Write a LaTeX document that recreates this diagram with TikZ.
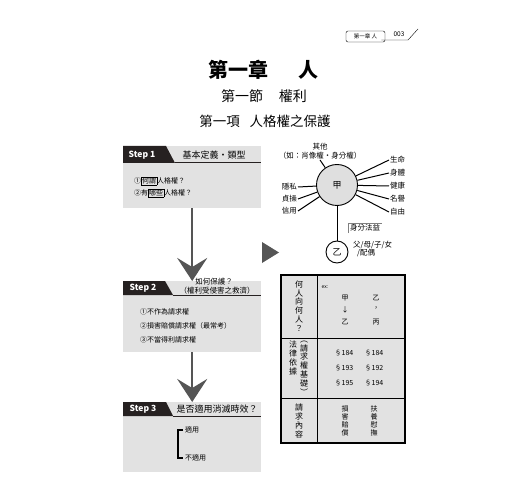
\documentclass[tikz,border=0pt]{standalone}
\usepackage{fontspec}
\setmainfont{Noto Sans CJK TC}
\usepackage{tikz}
\usetikzlibrary{arrows.meta,positioning}
\definecolor{boxgray}{RGB}{226,226,226}
\definecolor{tabblack}{RGB}{38,33,33}
\definecolor{arrowgray}{RGB}{85,85,85}

\begin{document}
\begin{tikzpicture}[x=1pt,y=-1pt,
    stepbody/.style={fill=boxgray,draw=none,anchor=north west,minimum width=138pt,inner sep=0pt},
    steplabel/.style={font=\fontsize{8.5}{9}\selectfont\bfseries,text=white,inner sep=0pt},
    stephead/.style={font=\fontsize{9}{9}\selectfont,inner sep=0pt},
    item/.style={anchor=west,font=\fontsize{7}{8}\selectfont,inner sep=0pt},
    flow/.style={line width=2.2pt,arrowgray,-{Stealth[length=23pt,width=30pt,inset=9pt]}},
    spoke/.style={line width=1pt},
    lbl/.style={font=\fontsize{7.5}{8.5}\selectfont,inner sep=1pt},
    vtext/.style={align=center,font=\fontsize{8}{8.8}\selectfont,inner sep=0pt},
    cell/.style={font=\fontsize{7}{8}\selectfont,inner sep=0pt}]
    \useasboundingbox (0,0) rectangle (520,500);

    % Running head
    \draw[rounded corners=2pt] (346,31) rectangle (385,42);
    \node[font=\fontsize{5.5}{6}\selectfont,inner sep=0pt] (runhead) at (365.5,36.5) {第一章\ 人};
    \node[font=\fontsize{6.5}{7}\selectfont,inner sep=0pt] (pagenum) at (399,34) {003};
    \coordinate (slashfoot) at (408,40);
    \coordinate (slashtop) at (418,29);
    \draw (runhead.east |- 0,40) ++(4,0) -- (slashfoot) -- (slashtop);

    % Titles
    \node[font=\fontsize{20}{20}\selectfont\bfseries] (chapter) at (263,70) {第一章\hspace{30pt}人};
    \node[font=\fontsize{14}{14}\selectfont] (section) at (264,96) {第一節\hspace{16pt}權利};
    \node[font=\fontsize{13.5}{14}\selectfont] (subsection) at (265,121) {第一項\hspace{10pt}人格權之保護};

    % Step 1
    \node[stepbody,minimum height=62pt] (box1) at (123,146) {};
    \fill[tabblack] (123,146) -- (166,146) -- (175,163) -- (123,163) -- cycle;
    \draw[line width=1pt,tabblack] (175,163) -- (261,163);
    \node[steplabel] (step1) at (142,155) {Step 1};
    \node[stephead] (head1) at (214,155) {基本定義・類型};
    \node[item] (item11) at (134,181) {①\fboxsep=0.6pt\fbox{何謂}人格權？};
    \node[item] (item12) at (134,193) {②有\fboxsep=0.6pt\fbox{哪些}人格權？};

    % Step 2
    \node[stepbody,minimum height=71pt] (box2) at (123,281) {};
    \fill[tabblack] (123,281) -- (165,281) -- (173,295) -- (123,295) -- cycle;
    \draw[line width=1pt,tabblack] (173,295) -- (261,295);
    \node[steplabel] (step2) at (143,288) {Step 2};
    \node[font=\fontsize{7.5}{8}\selectfont,inner sep=0pt] (head2a) at (214,282) {如何保護？};
    \node[font=\fontsize{7.5}{8}\selectfont,inner sep=0pt] (head2b) at (217,291) {（權利受侵害之救濟）};
    \node[item] (item21) at (140,312) {①不作為請求權};
    \node[item] (item22) at (140,326) {②損害賠償請求權（最常考）};
    \node[item] (item23) at (140,340) {③不當得利請求權};

    % Step 3
    \node[stepbody,minimum height=70pt] (box3) at (123,402) {};
    \fill[tabblack] (123,402) -- (166,402) -- (173,416) -- (123,416) -- cycle;
    \draw[line width=1pt,tabblack] (173,416) -- (261,416);
    \node[steplabel] (step3) at (143,409) {Step 3};
    \node[stephead] (head3) at (217,409) {是否適用消滅時效？};
    \node[item] (apply) at (185,430) {適用};
    \node[item] (noapply) at (185,458) {不適用};
    \draw[line width=1.8pt] ([xshift=-2pt]apply.west) -- ++(-5,0) |- ([xshift=-2pt]noapply.west);

    % Flow arrows
    \draw[flow] (box1.south) -- (box2.north);
    \draw[flow] (box2.south) -- (box3.north);
    \fill[arrowgray] (262,242) -- (279,252.5) -- (262,263) -- cycle;

    % Personality rights around A
    \node[circle,draw,line width=0.9pt,fill=gray!25,minimum size=41pt,inner sep=0pt,
          font=\fontsize{9}{9}\selectfont] (jia) at (337,185) {甲};
    \node[lbl,align=center] (other) at (320,151) {其他\\（如：肖像權・身分權）};
    \node[lbl,anchor=west] (life) at (389,160) {生命};
    \node[lbl,anchor=west] (body) at (389,173) {身體};
    \node[lbl,anchor=west] (health) at (389,186) {健康};
    \node[lbl,anchor=west] (honor) at (389,199) {名譽};
    \node[lbl,anchor=west] (freedom) at (389,212) {自由};
    \node[lbl,anchor=east] (privacy) at (298,187) {隱私};
    \node[lbl,anchor=east] (chastity) at (298,199) {貞操};
    \node[lbl,anchor=east] (credit) at (298,211) {信用};
    \foreach \n in {life,body,health,honor,freedom}
        \draw[spoke] (jia) -- (\n.west);
    \foreach \n in {privacy,chastity,credit}
        \draw[spoke] (jia) -- (\n.east);
    \draw[spoke] (jia) -- (other.south);

    \node[circle,draw,line width=0.9pt,fill=white,minimum size=22pt,inner sep=0pt,
          font=\fontsize{9}{9}\selectfont] (yi) at (337,252) {乙};
    \draw[spoke] (jia) -- (yi);
    \node[lbl,inner sep=1.5pt] (kinship) at (365,228) {身分法益};
    \draw[gray] (kinship.south west) -- (kinship.north west) -- (kinship.north east);
    \node[lbl,anchor=north west,align=left] (family) at (352,240) {父/母/子/女\\[-1pt]\hspace{4pt}/配偶};

    % Table
    \draw[line width=1.2pt,fill=boxgray] (281,275) rectangle (405,443);
    \draw[line width=1pt] (317,275) -- (317,443);
    \draw[line width=1pt] (281,338) -- (405,338);
    \draw[line width=1pt] (281,398) -- (405,398);
    \node[vtext] (who) at (299,306) {何\\人\\向\\何\\人\\？};
    \node[vtext] (basis) at (293,358) {法\\律\\依\\據};
    \node[vtext] (basisnote) at (304,368) {︵\\請\\求\\權\\基\\礎\\︶};
    \node[vtext] (content) at (299,421) {請\\求\\內\\容};
    \node[cell,font=\fontsize{5}{5}\selectfont] (ex) at (325,287) {ex:};
    \node[cell] (from) at (345,298) {甲};
    \node[cell] (down) at (345,310) {↓};
    \node[cell] (to) at (345,322) {乙};
    \node[cell] (victim) at (376,298) {乙};
    \node[cell] (sep) at (376,309) {，};
    \node[cell] (kin) at (376,322) {丙};
    \node[cell] (a184) at (344,353) {§184};
    \node[cell] (a193) at (344,368) {§193};
    \node[cell] (a195) at (344,383) {§195};
    \node[cell] (b184) at (374,353) {§184};
    \node[cell] (b192) at (374,368) {§192};
    \node[cell] (b194) at (374,383) {§194};
    \node[vtext,font=\fontsize{7}{8}\selectfont] (claimA) at (345,421) {損\\害\\賠\\償};
    \node[vtext,font=\fontsize{7}{8}\selectfont] (claimB) at (374,421) {扶\\養\\慰\\撫};
\end{tikzpicture}
\end{document}
